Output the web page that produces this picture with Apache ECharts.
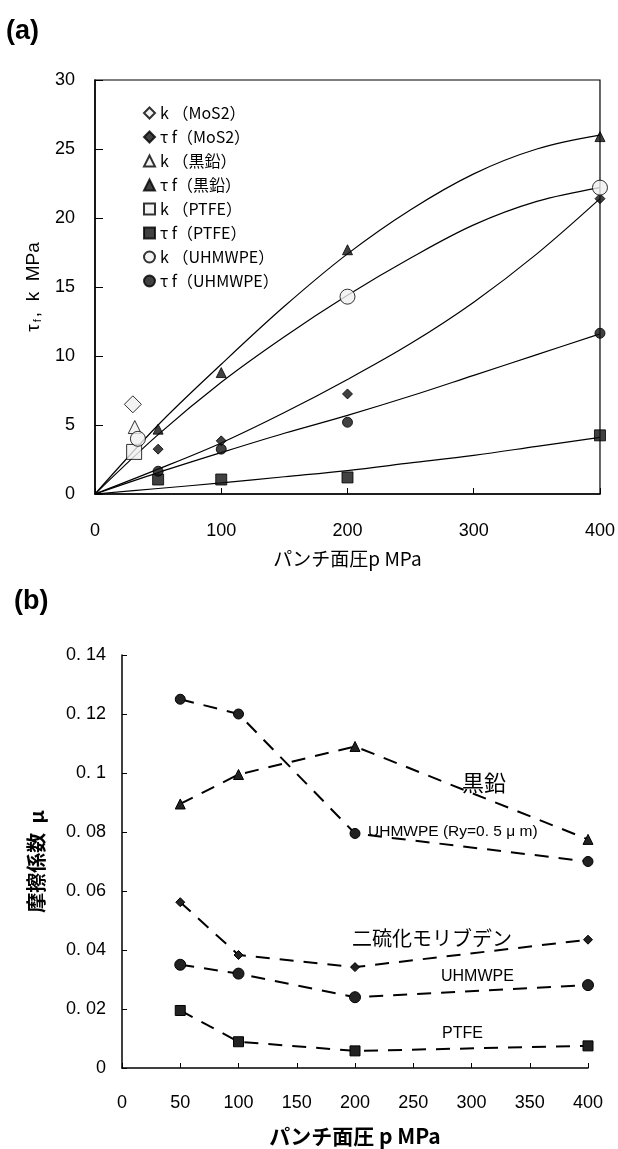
<!DOCTYPE html>
<html><head><meta charset="utf-8">
<script src="https://cdn.jsdelivr.net/npm/echarts@6/dist/echarts.min.js"></script>
<style>html,body{margin:0;padding:0;background:#fff}#c{width:618px;height:1149px}</style>
</head><body><div id="c"></div>
<script>
// ---------- (a) data ----------
const kMoS2 = [[30, 6.5]];
const kGraphite = [[31.5, 4.85]];
const kPTFE = [[31, 3.05]];
const kUHMWPE = [[34, 4.0], [200, 14.3], [400, 22.2]];
const pA = [50, 100, 200, 400];
const tfMoS2 = [3.25, 3.85, 7.25, 21.4];
const tfGraphite = [4.7, 8.8, 17.7, 25.9];
const tfPTFE = [1.05, 1.05, 1.2, 4.25];
const tfUHMWPE = [1.65, 3.25, 5.2, 11.65];
// fitted curves
const pFit = [0, 50, 100, 150, 200, 250, 300, 350, 400];
const fitGraphite = [0, 5.0, 9.4, 13.6, 17.4, 20.6, 23.2, 25.0, 26.0];
const fitKUHMWPE = [0, 4.3, 8.1, 11.4, 14.4, 17.1, 19.5, 21.2, 22.2];
const fitMoS2 = [0, 1.8, 3.7, 5.9, 8.3, 10.9, 13.9, 17.4, 21.4];
const fitUHMWPE = [0, 1.55, 3.0, 4.4, 5.7, 7.1, 8.6, 10.1, 11.6];
const fitPTFE = [0, 0.4, 0.8, 1.25, 1.7, 2.25, 2.8, 3.45, 4.1];
// ---------- (b) data ----------
const pB = [50, 100, 200, 400];
const muGraphite = [0.0895, 0.0995, 0.109, 0.0775];
const muUHMWPERy = [0.125, 0.12, 0.0795, 0.07];
const muMoS2 = [0.0562, 0.0383, 0.0342, 0.0435];
const muUHMWPE = [0.035, 0.032, 0.024, 0.0281];
const muPTFE = [0.0195, 0.0089, 0.0058, 0.0075];
const muTicks = ['0', '0. 02', '0. 04', '0. 06', '0. 08', '0. 1', '0. 12', '0. 14'];

const FF = "'Liberation Sans','Noto Sans CJK JP',sans-serif";
const JF = "'Noto Sans CJK JP','Liberation Sans',sans-serif";
const pair = (xs, ys) => xs.map((x, i) => [x, ys[i]]);
const openStyle = { color: '#f0f0f0', borderColor: '#000', borderWidth: 1 };
const fillStyle = { color: '#111', borderColor: '#000', borderWidth: 1 };

function scat(name, data, symbol, size, style) {
  return { type: 'scatter', name, data, symbol, symbolSize: size, itemStyle: style, xAxisIndex: 0, yAxisIndex: 0, z: 5 };
}
function fit(ys) {
  return { type: 'line', data: pair(pFit, ys), smooth: 0.35, showSymbol: false, symbol: 'none',
    lineStyle: { color: '#000', width: 1.2 }, xAxisIndex: 0, yAxisIndex: 0, silent: true, z: 3 };
}
function dash(name, ys, symbol, size) {
  return { type: 'line', name, data: pair(pB, ys), symbol, symbolSize: size, showSymbol: true,
    itemStyle: { color: '#222', borderColor: '#000', borderWidth: 1 },
    lineStyle: { color: '#000', width: 2, type: [14, 10] }, xAxisIndex: 1, yAxisIndex: 1 };
}

const names = ['k （MoS2）', 'τ f（MoS2）', 'k （黒鉛）', 'τ f（黒鉛）', 'k （PTFE）', 'τ f（PTFE）', 'k （UHMWPE）', 'τ f（UHMWPE）'];

const option = {
  animation: false,
  backgroundColor: '#fff',
  textStyle: { fontFamily: FF },
  grid: [
    { left: 95, top: 80, width: 505, height: 414, show: true, borderColor: '#000', borderWidth: 1.2 },
    { left: 122, top: 655, width: 466, height: 413 }
  ],
  legend: {
    orient: 'vertical', left: 138, top: 100, itemWidth: 11, itemHeight: 11, itemGap: 8,
    textStyle: { fontSize: 16, fontFamily: JF, color: '#000' },
    data: names
  },
  xAxis: [
    { gridIndex: 0, type: 'value', min: 0, max: 400, interval: 100,
      axisLine: { lineStyle: { color: '#000', width: 1.5 } },
      axisTick: { inside: true, length: 6, lineStyle: { color: '#000' } },
      splitLine: { show: false },
      axisLabel: { fontSize: 18, color: '#000', margin: 28, fontFamily: FF },
      name: 'パンチ面圧p MPa', nameLocation: 'middle', nameGap: 55,
      nameTextStyle: { fontSize: 19, color: '#000', fontFamily: JF } },
    { gridIndex: 1, type: 'value', min: 0, max: 400, interval: 50,
      axisLine: { lineStyle: { color: '#000', width: 1.5 } },
      axisTick: { inside: true, length: 5, lineStyle: { color: '#000' } },
      splitLine: { show: false },
      axisLabel: { fontSize: 18, color: '#000', margin: 26, fontFamily: FF },
      name: 'パンチ面圧 p MPa', nameLocation: 'middle', nameGap: 58,
      nameTextStyle: { fontSize: 21, color: '#000', fontFamily: JF, fontWeight: 'bold' } }
  ],
  yAxis: [
    { gridIndex: 0, type: 'value', min: 0, max: 30, interval: 5,
      axisLine: { show: true, lineStyle: { color: '#000', width: 1.5 } },
      axisTick: { show: true, inside: true, length: 8, lineStyle: { color: '#000' } },
      splitLine: { show: false },
      axisLabel: { fontSize: 18, color: '#000', margin: 20, fontFamily: FF },
      name: '{t|τ}{s|f}{t|,  k  MPa}', nameLocation: 'middle', nameGap: 52,
      nameTextStyle: { color: '#000', rich: { t: { fontSize: 19, fontFamily: FF, color: '#000' }, s: { fontSize: 11, fontFamily: FF, color: '#000', verticalAlign: 'bottom', padding: [8, 2, 0, 2] } } } },
    { gridIndex: 1, type: 'value', min: 0, max: 0.14, interval: 0.02,
      axisLine: { show: true, lineStyle: { color: '#000', width: 1.5 } },
      axisTick: { show: true, inside: true, length: 5, lineStyle: { color: '#000' } },
      splitLine: { show: false },
      axisLabel: { fontSize: 18, color: '#000', margin: 16, fontFamily: FF, formatter: (v, i) => muTicks[i] },
      name: '摩擦係数  μ', nameLocation: 'middle', nameGap: 76,
      nameTextStyle: { fontSize: 20, color: '#000', fontFamily: JF, fontWeight: 'bold' } }
  ],
  graphic: [
    { type: 'text', left: 6, top: 18, style: { text: '(a)', font: "bold 27px 'Liberation Sans', sans-serif", fill: '#000' } },
    { type: 'text', left: 14, top: 588, style: { text: '(b)', font: "bold 27px 'Liberation Sans', sans-serif", fill: '#000' } },
    { type: 'text', x: 484, y: 783, style: { text: '黒鉛', font: "22px 'Noto Sans CJK JP'", fill: '#000', align: 'center', verticalAlign: 'middle' } },
    { type: 'text', x: 368, y: 832, style: { text: 'UHMWPE (Ry=0. 5 μ m)', font: "15.5px 'Liberation Sans Narrow','Liberation Sans'", fill: '#000', verticalAlign: 'middle' } },
    { type: 'text', x: 352, y: 938, style: { text: '二硫化モリブデン', font: "20px 'Noto Sans CJK JP'", fill: '#000', verticalAlign: 'middle' } },
    { type: 'text', x: 441, y: 977, style: { text: 'UHMWPE', font: "16px 'Liberation Sans Narrow','Liberation Sans'", fill: '#000', verticalAlign: 'middle' } },
    { type: 'text', x: 442, y: 1034, style: { text: 'PTFE', font: "16px 'Liberation Sans Narrow','Liberation Sans'", fill: '#000', verticalAlign: 'middle' } }
  ],
  series: [
    fit(fitGraphite), fit(fitKUHMWPE), fit(fitMoS2), fit(fitUHMWPE), fit(fitPTFE),
    scat(names[0], kMoS2, 'diamond', 17, openStyle),
    scat(names[1], pair(pA, tfMoS2), 'diamond', 10, fillStyle),
    scat(names[2], kGraphite, 'triangle', 13, openStyle),
    scat(names[3], pair(pA, tfGraphite), 'triangle', 10, fillStyle),
    scat(names[4], kPTFE, 'rect', 15, openStyle),
    scat(names[5], pair(pA, tfPTFE), 'rect', 11, fillStyle),
    scat(names[6], kUHMWPE, 'circle', 15, openStyle),
    scat(names[7], pair(pA, tfUHMWPE), 'circle', 10, fillStyle),
    dash('UHMWPE(Ry)', muUHMWPERy, 'circle', 10),
    dash('黒鉛', muGraphite, 'triangle', 10),
    dash('二硫化モリブデン', muMoS2, 'diamond', 9),
    dash('UHMWPE', muUHMWPE, 'circle', 11),
    dash('PTFE', muPTFE, 'rect', 10)
  ]
};
const chart = echarts.init(document.getElementById('c'), null, { renderer: 'canvas' });
chart.setOption(option);
</script></body></html>
